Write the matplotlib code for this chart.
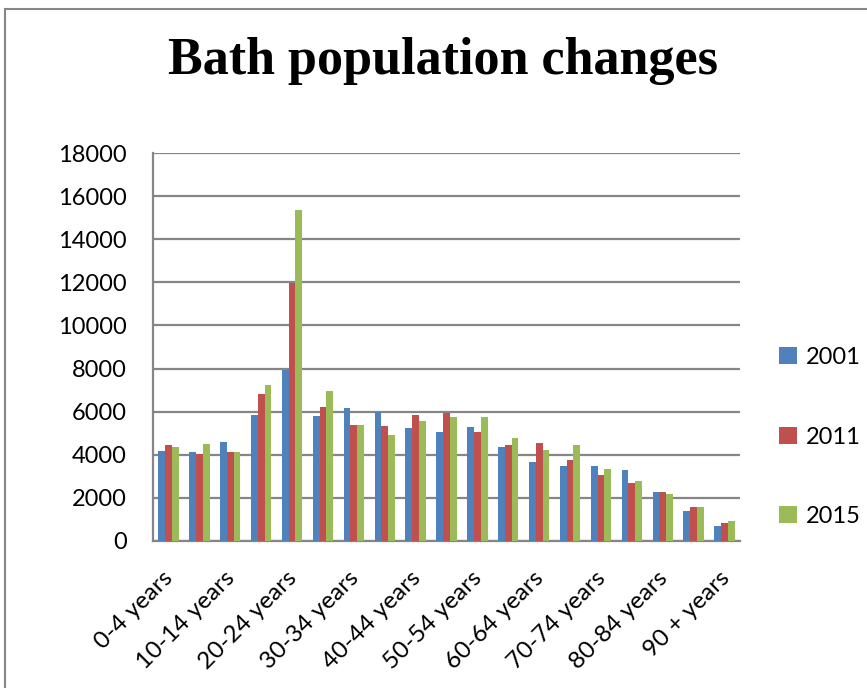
import numpy as np
import matplotlib
matplotlib.use('Agg')
import matplotlib.pyplot as plt
from matplotlib.patches import Rectangle
from matplotlib.transforms import ScaledTranslation

# age bands and population counts
ages = ['0-4 years', '5-9 years', '10-14 years', '15-19 years', '20-24 years',
        '25-29 years', '30-34 years', '35-39 years', '40-44 years', '45-49 years',
        '50-54 years', '55-59 years', '60-64 years', '65-69 years', '70-74 years',
        '75-79 years', '80-84 years', '85-89 years', '90 + years']
pop_2001 = [4170, 4140, 4590, 5860, 7930, 5800, 6170, 5980, 5250, 5050,
            5290, 4340, 3660, 3460, 3470, 3300, 2280, 1400, 680]
pop_2011 = [4440, 4030, 4110, 6820, 11990, 6230, 5380, 5330, 5840, 5960,
            5070, 4450, 4560, 3770, 3070, 2680, 2290, 1580, 840]
pop_2015 = [4360, 4500, 4130, 7230, 15360, 6940, 5380, 4920, 5560, 5750,
            5770, 4770, 4200, 4450, 3330, 2790, 2190, 1570, 930]
years = ['2001', '2011', '2015']
colors = ['#4F81BD', '#C0504D', '#9BBB59']

plt.rcParams['font.family'] = ['Lato', 'DejaVu Sans']

fig = plt.figure(figsize=(8.67, 6.88), dpi=100)
ax = fig.add_axes([0.1765, 0.2137, 0.677, 0.5639])

x = np.arange(len(ages))
w = 0.22
for i, (vals, lab, c) in enumerate(zip([pop_2001, pop_2011, pop_2015], years, colors)):
    ax.bar(x + (i - 1) * w, vals, width=w, color=c, label=lab, zorder=3)

ax.set_xlim(-0.5, len(ages) - 0.5)
ax.set_ylim(0, 18000)
ax.set_yticks(np.arange(0, 18001, 2000))
ax.yaxis.grid(True, color='#868686', linewidth=1.6, zorder=0)
ax.set_axisbelow(True)
for s in ['top', 'right']:
    ax.spines[s].set_visible(False)
for s in ['left', 'bottom']:
    ax.spines[s].set_color('#868686')
    ax.spines[s].set_linewidth(1.6)
ax.tick_params(axis='y', labelsize=17, length=0, pad=19)
ax.tick_params(axis='x', length=0, labelsize=17.5, pad=19)
ax.set_xticks(x[::2])
ax.set_xticklabels(ages[::2], rotation=45, ha='right', rotation_mode='anchor')
# nudge the slanted labels a little to the left, like the original
shift = ScaledTranslation(-0.06, 0, fig.dpi_scale_trans)
for t in ax.get_xticklabels():
    t.set_transform(t.get_transform() + shift)

ax.legend(loc='center left', bbox_to_anchor=(1.03, 0.268), frameon=False,
          fontsize=17, handlelength=0.75, handleheight=0.75, handletextpad=0.4,
          labelspacing=2.48)

fig.text(0.511, 0.912, 'Bath population changes', ha='center', va='center',
         fontsize=37.5, fontweight='bold', family='Liberation Serif')

fig.patches.append(Rectangle((0.0058, -0.1), 1.2, 1.087, transform=fig.transFigure,
                             fill=False, edgecolor='#868686', linewidth=1.5))

fig.savefig('out.png', dpi=100)
